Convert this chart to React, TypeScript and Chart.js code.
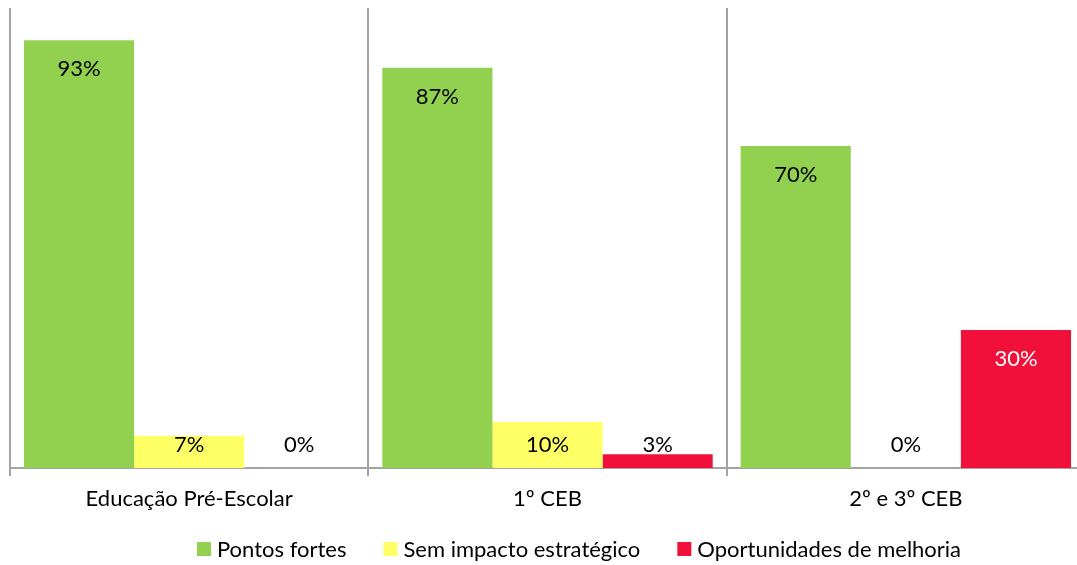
import React, { useEffect, useRef } from "react";
import { Chart, registerables } from "chart.js";

Chart.register(...registerables);

const categories = ["Educação Pré-Escolar", "1º CEB", "2º e 3º CEB"];
const seriesNames = ["Pontos fortes", "Sem impacto estratégico", "Oportunidades de melhoria"];
const pontosFortes = [93, 87, 70];
const semImpacto = [7, 10, 0];
const oportunidades = [0, 3, 30];
const seriesColors = ["#92D050", "#FFFF66", "#F0103A"];

const FONT = "Lato, 'Open Sans', sans-serif";
const GRID = "#a3a3a3";

const labelPlugin = {
  id: "barLabels",
  afterDatasetsDraw(chart: any) {
    const ctx = chart.ctx;
    const base = chart.scales.y.getPixelForValue(0);
    ctx.save();
    ctx.font = `22px ${FONT}`;
    ctx.textAlign = "center";
    ctx.textBaseline = "middle";
    chart.data.datasets.forEach((ds: any, di: number) => {
      const meta = chart.getDatasetMeta(di);
      meta.data.forEach((bar: any, i: number) => {
        const v = ds.data[i];
        const top = bar.y;
        const inside = top + 29 < base - 23;
        const y = Math.min(top + 29, base - 23);
        ctx.fillStyle = inside && di === 2 ? "#ffffff" : "#000000";
        ctx.fillText(`${v}%`, bar.x, y);
      });
    });
    ctx.restore();
  },
};

const legendPlugin = {
  id: "customLegend",
  afterDraw(chart: any) {
    const ctx = chart.ctx;
    ctx.save();
    ctx.font = `22px ${FONT}`;
    ctx.textBaseline = "middle";
    ctx.textAlign = "left";
    const box = 14;
    const gap = 6;
    const spacing = 37;
    const datasets = chart.data.datasets;
    const widths = datasets.map((ds: any) => ctx.measureText(ds.label).width);
    const total =
      widths.reduce((a: number, w: number) => a + box + gap + w, 0) + spacing * (datasets.length - 1);
    const centerX = 579;
    const cy = 549;
    let x = centerX - total / 2;
    datasets.forEach((ds: any, i: number) => {
      ctx.fillStyle = ds.backgroundColor;
      ctx.fillRect(x, cy - box / 2, box, box);
      ctx.fillStyle = "#000";
      ctx.fillText(ds.label, x + box + gap, cy + 1);
      x += box + gap + widths[i] + spacing;
    });
    ctx.restore();
  },
};

export default function App() {
  const ref = useRef<HTMLCanvasElement | null>(null);
  useEffect(() => {
    if (!ref.current) return;
    const datasets = [pontosFortes, semImpacto, oportunidades].map((d, i) => ({
      label: seriesNames[i],
      data: d,
      backgroundColor: seriesColors[i],
      borderWidth: 0,
      categoryPercentage: 0.922,
      barPercentage: 1,
    }));
    const chart = new Chart(ref.current, {
      type: "bar",
      data: { labels: categories, datasets },
      plugins: [labelPlugin, legendPlugin],
      options: {
        responsive: false,
        animation: false,
        layout: { padding: { left: 10, top: 8, right: 5, bottom: 42.6 } },
        plugins: {
          tooltip: { enabled: false },
          legend: { display: false },
        },
        scales: {
          x: {
            grid: {
              offset: true,
              color: GRID,
              lineWidth: 2,
              tickLength: 8,
              drawOnChartArea: true,
            },
            border: { display: true, color: GRID, width: 2 },
            ticks: { font: { family: FONT, size: 22 }, color: "#000", padding: 10 },
          },
          y: { display: false, min: 0, max: 100 },
        },
      },
    });
    return () => chart.destroy();
  }, []);
  return (
    <div style={{ position: "fixed", left: 0, top: 0, width: 1077, height: 565, overflow: "hidden", background: "#fff" }}>
      <canvas ref={ref} width={1090} height={565} style={{ display: "block", width: 1090, height: 565 }} />
    </div>
  );
}
